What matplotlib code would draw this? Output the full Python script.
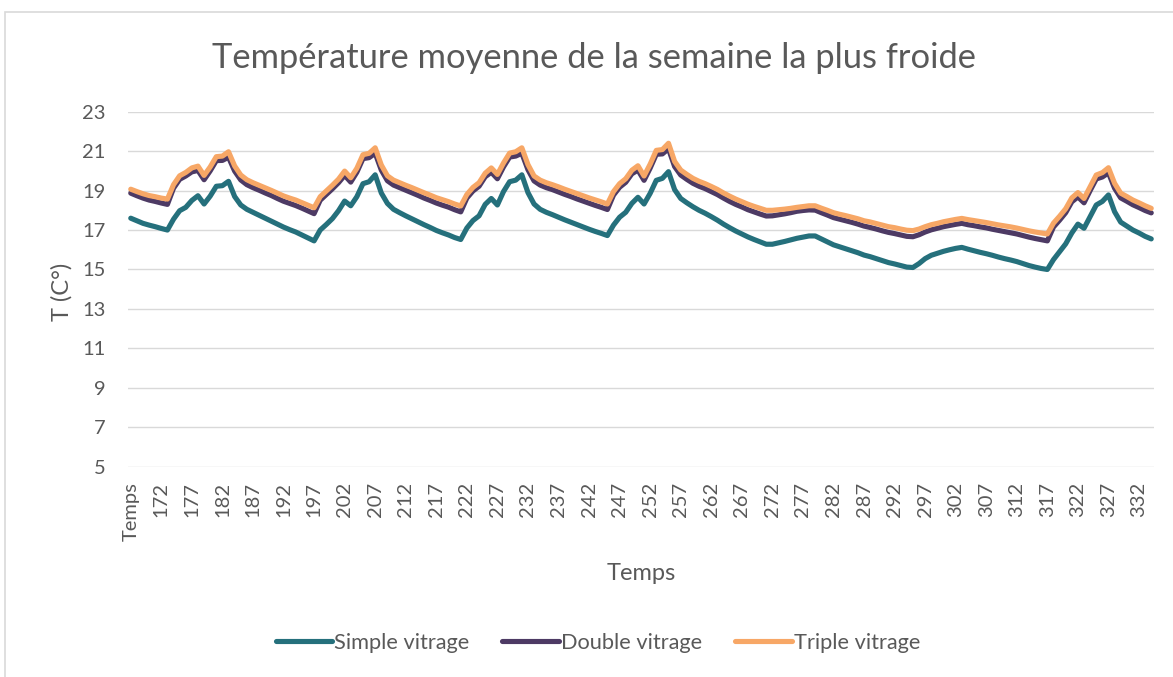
import matplotlib
matplotlib.use("Agg")
import matplotlib.pyplot as plt
from matplotlib.patches import Rectangle
import numpy as np

# Hourly categories: header cell followed by hours 168..334
categories = ["Temps"] + [str(h) for h in range(168, 335)]

simple_vitrage = [
    17.60, 17.47, 17.34, 17.25, 17.17, 17.08, 17.00, 17.55, 17.98, 18.15,
    18.50, 18.74, 18.32, 18.72, 19.22, 19.25, 19.47, 18.70, 18.27, 18.05,
    17.90, 17.75, 17.60, 17.45, 17.30, 17.15, 17.02, 16.90, 16.75, 16.60,
    16.45, 17.00, 17.28, 17.58, 17.98, 18.47, 18.23, 18.69, 19.35, 19.45,
    19.80, 18.88, 18.35, 18.05, 17.88, 17.72, 17.57, 17.42, 17.27, 17.13,
    16.98, 16.86, 16.75, 16.62, 16.52, 17.10, 17.48, 17.72, 18.30, 18.60,
    18.27, 18.95, 19.45, 19.53, 19.80, 18.90, 18.32, 18.05, 17.90, 17.78,
    17.65, 17.52, 17.40, 17.28, 17.16, 17.04, 16.93, 16.83, 16.72, 17.25,
    17.65, 17.90, 18.35, 18.66, 18.32, 18.86, 19.52, 19.62, 19.96, 19.05,
    18.60, 18.38, 18.18, 18.00, 17.85, 17.68, 17.50, 17.30, 17.12, 16.95,
    16.80, 16.65, 16.52, 16.40, 16.28, 16.28, 16.35, 16.42, 16.50, 16.58,
    16.64, 16.70, 16.70, 16.55, 16.40, 16.25, 16.15, 16.05, 15.95, 15.85,
    15.73, 15.65, 15.55, 15.45, 15.35, 15.28, 15.20, 15.12, 15.10, 15.30,
    15.55, 15.72, 15.82, 15.92, 16.00, 16.07, 16.12, 16.03, 15.95, 15.87,
    15.80, 15.72, 15.63, 15.55, 15.48, 15.40, 15.30, 15.20, 15.12, 15.05,
    15.00, 15.50, 15.90, 16.30, 16.85, 17.30, 17.09, 17.68, 18.27, 18.45,
    18.78, 17.93, 17.40, 17.20, 17.00, 16.85, 16.68, 16.55,
]

double_vitrage = [
    18.87, 18.74, 18.62, 18.52, 18.45, 18.37, 18.30, 19.12, 19.57, 19.74,
    19.95, 20.02, 19.55, 20.00, 20.52, 20.53, 20.69, 19.99, 19.54, 19.30,
    19.15, 19.02, 18.88, 18.75, 18.60, 18.46, 18.35, 18.24, 18.11, 17.97,
    17.83, 18.51, 18.80, 19.09, 19.40, 19.77, 19.43, 19.93, 20.62, 20.67,
    20.89, 20.04, 19.50, 19.28, 19.15, 19.02, 18.89, 18.76, 18.62, 18.50,
    18.37, 18.26, 18.16, 18.03, 17.92, 18.62, 18.98, 19.22, 19.70, 19.93,
    19.60, 20.20, 20.70, 20.75, 20.89, 20.06, 19.49, 19.28, 19.15, 19.05,
    18.93, 18.81, 18.70, 18.58, 18.47, 18.36, 18.25, 18.15, 18.04, 18.77,
    19.17, 19.42, 19.85, 20.04, 19.52, 20.14, 20.84, 20.86, 21.12, 20.22,
    19.79, 19.57, 19.37, 19.22, 19.10, 18.95, 18.80, 18.62, 18.45, 18.30,
    18.17, 18.03, 17.92, 17.81, 17.71, 17.72, 17.77, 17.82, 17.88, 17.95,
    17.99, 18.02, 18.01, 17.88, 17.76, 17.63, 17.55, 17.47, 17.39, 17.30,
    17.20, 17.13, 17.05, 16.96, 16.88, 16.82, 16.75, 16.68, 16.66, 16.76,
    16.90, 17.01, 17.09, 17.17, 17.23, 17.29, 17.34, 17.27, 17.22, 17.16,
    17.11, 17.04, 16.98, 16.92, 16.86, 16.80, 16.72, 16.64, 16.57, 16.51,
    16.45, 17.15, 17.50, 17.88, 18.43, 18.68, 18.38, 19.00, 19.59, 19.69,
    19.90, 19.12, 18.63, 18.46, 18.28, 18.14, 17.99, 17.87,
]

triple_vitrage = [
    19.07, 18.95, 18.84, 18.75, 18.69, 18.62, 18.57, 19.30, 19.75, 19.92,
    20.15, 20.24, 19.77, 20.20, 20.72, 20.75, 20.97, 20.25, 19.79, 19.55,
    19.40, 19.27, 19.14, 19.01, 18.87, 18.73, 18.62, 18.52, 18.39, 18.26,
    18.13, 18.69, 18.98, 19.27, 19.58, 19.99, 19.65, 20.13, 20.82, 20.89,
    21.17, 20.30, 19.75, 19.53, 19.40, 19.27, 19.15, 19.02, 18.89, 18.77,
    18.64, 18.54, 18.44, 18.32, 18.22, 18.80, 19.16, 19.40, 19.88, 20.15,
    19.82, 20.40, 20.90, 20.97, 21.17, 20.32, 19.74, 19.53, 19.40, 19.30,
    19.19, 19.07, 18.96, 18.85, 18.74, 18.63, 18.53, 18.43, 18.32, 18.95,
    19.35, 19.60, 20.03, 20.26, 19.74, 20.34, 21.04, 21.08, 21.40, 20.48,
    20.04, 19.82, 19.62, 19.47, 19.35, 19.21, 19.06, 18.88, 18.72, 18.57,
    18.44, 18.31, 18.20, 18.10, 18.00, 18.00, 18.03, 18.06, 18.10, 18.15,
    18.19, 18.23, 18.23, 18.11, 18.00, 17.88, 17.80, 17.73, 17.65, 17.57,
    17.47, 17.41, 17.33, 17.25, 17.17, 17.12, 17.05, 16.99, 16.97, 17.05,
    17.17, 17.27, 17.34, 17.42, 17.48, 17.54, 17.59, 17.53, 17.48, 17.43,
    17.38, 17.32, 17.26, 17.21, 17.16, 17.10, 17.03, 16.96, 16.90, 16.85,
    16.80, 17.35, 17.70, 18.08, 18.63, 18.90, 18.60, 19.20, 19.79, 19.91,
    20.16, 19.37, 18.87, 18.70, 18.52, 18.38, 18.23, 18.10,
]

series_names = ["Simple vitrage", "Double vitrage", "Triple vitrage"]
series_colors = ["#25707C", "#4D3A64", "#F7A766"]
y_ticks = list(range(5, 24, 2))

FONT = ["Lato", "DejaVu Sans"]
TEXT = "#595959"
plt.rcParams["font.family"] = FONT

W, H = 1173, 677
fig = plt.figure(figsize=(W / 100, H / 100), dpi=100)
fig.patch.set_facecolor("white")

# chart frame (only the top and left edges fall inside the image)
fig.patches.append(Rectangle((5 / W, -0.05), 1.1, 1 - 12 / H + 0.05,
                             transform=fig.transFigure, fill=False,
                             edgecolor="#d9d9d9", linewidth=1.2))

left, right, top, bottom = 127.7, 1154.3, 111.7, 466.7
ax = fig.add_axes([left / W, 1 - bottom / H, (right - left) / W, (bottom - top) / H])

x = np.arange(len(categories))
for vals, name, col in zip([simple_vitrage, double_vitrage, triple_vitrage],
                           series_names, series_colors):
    ax.plot(x, vals, color=col, linewidth=3.7, label=name,
            solid_capstyle="round", solid_joinstyle="round", zorder=3)

ax.set_xlim(-0.5, len(categories) - 0.5)
ax.set_ylim(5, 23)
ax.set_yticks(y_ticks)
ax.set_yticklabels([str(v) for v in y_ticks])
ax.yaxis.grid(True, color="#d9d9d9", linewidth=1.0)
ax.set_axisbelow(True)
for s in ax.spines.values():
    s.set_visible(False)

tick_idx = list(range(0, len(categories), 5))
ax.set_xticks(tick_idx)
ax.set_xticklabels([categories[i] for i in tick_idx], rotation=90)
ax.tick_params(axis="x", length=0, pad=11, labelsize=14.5, labelcolor=TEXT)
ax.tick_params(axis="y", length=0, pad=16, labelsize=14.5, labelcolor=TEXT)

fig.text(62 / W, 1 - 292 / H, "T (C°)", rotation=90, ha="center", va="center",
         fontsize=17, color=TEXT)
fig.text(641 / W, 1 - 573 / H, "Temps", ha="center", va="center",
         fontsize=17, color=TEXT)

fig.text(594 / W, 1 - 58 / H, "Température moyenne de la semaine la plus froide",
         ha="center", va="center", fontsize=24.8, color=TEXT)

leg = fig.legend(loc="center", bbox_to_anchor=(598 / W, 1 - 643 / H), ncol=3,
                 frameon=False, fontsize=15.7, handlelength=2.6,
                 handletextpad=0.1, columnspacing=1.5, labelcolor=TEXT)
for ln in leg.get_lines():
    ln.set_linewidth(3.7)
    ln.set_solid_capstyle("round")

fig.savefig("out.png", dpi=100, facecolor="white")
